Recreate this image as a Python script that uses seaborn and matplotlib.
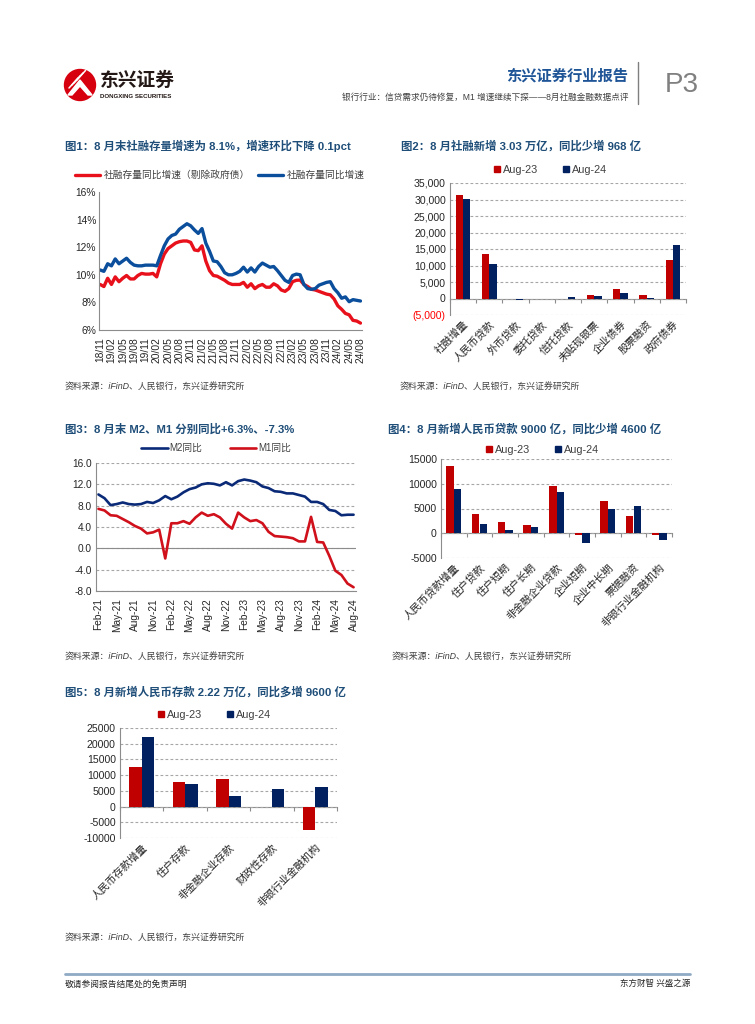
import numpy as np
import pandas as pd
import matplotlib
matplotlib.use('Agg')
import matplotlib.pyplot as plt
import seaborn as sns
from matplotlib.lines import Line2D
from matplotlib.patches import Circle, Polygon
import matplotlib.ticker as mticker

# ---------------- DATA ----------------
# Fig 1: TSF stock growth (%), monthly 2018/11 - 2024/08
tsf_months = [d.strftime('%y/%m') for d in pd.date_range('2018-11-01', '2024-08-01', freq='MS')]
tsf_ex_gov = [9.3, 9.15, 9.75, 9.3, 9.85, 9.5, 9.75, 9.95, 9.7, 9.7,
              9.95, 10.1, 10.05, 10.05, 10.1, 9.85, 10.8, 11.5, 11.9, 12.1,
              12.3, 12.4, 12.45, 12.45, 12.35, 11.8, 11.75, 12.1, 11.0, 10.3,
              9.95, 9.9, 9.75, 9.6, 9.4, 9.3, 9.3, 9.3, 9.45, 9.1,
              9.35, 9.0, 9.2, 9.3, 9.1, 9.1, 9.35, 9.2, 8.9, 8.8,
              9.0, 9.5, 9.6, 9.62, 9.3, 9.15, 8.95, 8.9, 8.8, 8.7,
              8.6, 8.55, 8.25, 7.75, 7.5, 7.2, 7.1, 6.7, 6.65, 6.5]
tsf_total = [10.35, 10.25, 10.8, 10.65, 11.15, 10.8, 11.0, 11.2, 10.9, 10.7,
             10.65, 10.65, 10.7, 10.7, 10.7, 10.65, 11.4, 12.1, 12.6, 12.85,
             12.95, 13.3, 13.5, 13.7, 13.55, 13.25, 13.0, 13.35, 12.3, 11.7,
             11.0, 10.95, 10.6, 10.15, 10.0, 10.0, 10.1, 10.25, 10.55, 10.2,
             10.5, 10.2, 10.6, 10.85, 10.7, 10.55, 10.6, 10.3, 9.95, 9.6,
             9.45, 9.95, 10.05, 10.0, 9.3, 9.0, 8.95, 9.0, 9.25, 9.35,
             9.45, 9.5, 9.0, 8.7, 8.3, 8.4, 8.05, 8.2, 8.15, 8.1]
fig1_labels = ['社融存量同比增速（剔除政府债）', '社融存量同比增速']

# Fig 2: new TSF by component (100 million yuan)
tsf_cats = ['社融增量', '人民币贷款', '外币贷款', '委托贷款', '信托贷款',
            '未贴现银票', '企业债券', '股票融资', '政府债券']
tsf_aug23 = [31300, 13400, -150, -60, -200, 1200, 2800, 1100, 11800]
tsf_aug24 = [30300, 10500, -500, -30, 500, 700, 1800, 200, 16200]

# Fig 3: M2 / M1 yoy (%), Feb-21 - Aug-24
m_months = [d.strftime('%b-%y') for d in pd.date_range('2021-02-01', '2024-08-01', freq='MS')]
m2_yoy = [10.1, 9.4, 8.1, 8.3, 8.6, 8.3, 8.2, 8.3, 8.7, 8.5, 9.0, 9.8, 9.2, 9.7,
          10.5, 11.1, 11.4, 12.0, 12.2, 12.1, 11.8, 12.4, 11.8, 12.6, 12.9, 12.7,
          12.4, 11.6, 11.3, 10.7, 10.6, 10.3, 10.3, 10.0, 9.7, 8.7, 8.7, 8.3,
          7.2, 7.0, 6.2, 6.3, 6.3]
m1_yoy = [7.4, 7.1, 6.2, 6.1, 5.5, 4.9, 4.2, 3.7, 2.8, 3.0, 3.5, -1.9, 4.7, 4.7,
          5.1, 4.6, 5.8, 6.7, 6.1, 6.4, 5.8, 4.6, 3.7, 6.7, 5.8, 5.1, 5.3, 4.7,
          3.1, 2.3, 2.2, 2.1, 1.9, 1.3, 1.3, 5.9, 1.2, 1.1, -1.4, -4.2, -5.0,
          -6.6, -7.3]
fig3_labels = ['M2同比', 'M1同比']

# Fig 4: new RMB loans (100 million yuan)
loan_cats = ['人民币贷款增量', '住户贷款', '住户短期', '住户长期', '非金融企业贷款',
             '企业短期', '企业中长期', '票据融资', '非银行业金融机构']
loan_aug23 = [13600, 3900, 2300, 1700, 9500, -400, 6500, 3500, -300]
loan_aug24 = [9000, 1900, 700, 1200, 8400, -1900, 4900, 5500, -1400]

# Fig 5: new RMB deposits (100 million yuan)
dep_cats = ['人民币存款增量', '住户存款', '非金融企业存款', '财政性存款', '非银行业金融机构']
dep_aug23 = [12600, 7900, 8800, -100, -7400]
dep_aug24 = [22200, 7100, 3500, 5700, 6300]

periods = ['Aug-23', 'Aug-24']

# ---------------- STYLE ----------------
sns.set_theme(style='white')
plt.rcParams['font.family'] = ['Liberation Sans', 'Noto Sans CJK SC', 'DejaVu Sans']
plt.rcParams['axes.unicode_minus'] = False

RED1, BLUE1 = '#E8111B', '#0A4E9C'
RED, NAVY = '#C00000', '#002060'
TITLE_C = '#1F4E79'
GRID_C = '#A6A6A6'
AX_C = '#8C8C8C'
TXT_C = '#262626'

W, H = 755, 1024
fig = plt.figure(figsize=(W / 100, H / 100), dpi=100)

def fx(x):
    return x / W

def fy(y):
    return 1 - y / H

def axes_px(l, t, r, b):
    return fig.add_axes([fx(l), fy(b), (r - l) / W, (b - t) / H])

# overlay for page decorations (pixel coordinates)
deco = fig.add_axes([0, 0, 1, 1], zorder=-1)
deco.set_xlim(0, W)
deco.set_ylim(H, 0)
deco.axis('off')

# header logo
deco.add_patch(Circle((80, 85), 15.5, color='#D7000F'))
deco.add_patch(Polygon([[68, 95], [80, 80], [92, 95], [88, 95], [80, 86], [72, 95]],
                       closed=True, color='white'))
for k in range(4):
    deco.plot([69 + k * 2.5, 78 + k * 2.5], [88 - k * 2.5, 78 - k * 2.5], color='white', lw=1.1)
deco.text(100, 81, '东兴证券', fontsize=13.5, fontweight='bold', color='#231815', va='center', ha='left')
deco.text(100, 96.5, 'DONGXING SECURITIES', fontsize=4.4, fontweight='bold', color='#231815', va='center', ha='left')
deco.text(628, 76, '东兴证券行业报告', fontsize=11, fontweight='bold', color='#1F5597', va='center', ha='right')
deco.text(628, 97, '银行行业：信贷需求仍待修复，M1 增速继续下探——8月社融金融数据点评',
          fontsize=6.2, color='#404040', va='center', ha='right')
deco.plot([638, 638], [62, 104], color='#7F7F7F', lw=1)
deco.text(665, 85, 'P3', fontsize=20, color='#808080', va='center', ha='left',
          family=['Liberation Sans Narrow', 'Liberation Sans'])

# footer
deco.plot([65, 690], [974, 974], color='#8FAAC4', lw=2)
deco.text(65, 984, '敬请参阅报告结尾处的免责声明', fontsize=6.3, color='#262626', va='center', ha='left')
deco.text(690, 984, '东方财智 兴盛之源', fontsize=6.1, color='#262626', va='center', ha='right')

# titles
titles = [
    (65, 146, '图1：8 月末社融存量增速为 8.1%，增速环比下降 0.1pct'),
    (401, 146, '图2：8 月社融新增 3.03 万亿，同比少增 968 亿'),
    (65, 429, '图3：8 月末 M2、M1 分别同比+6.3%、-7.3%'),
    (388, 429, '图4：8 月新增人民币贷款 9000 亿，同比少增 4600 亿'),
    (65, 692, '图5：8 月新增人民币存款 2.22 万亿，同比多增 9600 亿'),
]
for x, y, t in titles:
    deco.text(x, y, t, fontsize=8.2, fontweight='bold', color=TITLE_C, va='center', ha='left')

src = '资料来源：iFinD、人民银行，东兴证券研究所'
for x, y in [(65, 387), (400, 387), (65, 657), (392, 657), (65, 938)]:
    deco.text(x, y, src, fontsize=6.4, style='italic', color='#404040', va='center', ha='left')


def style_axes(ax):
    for s in ['top', 'right']:
        ax.spines[s].set_visible(False)
    for s in ['left', 'bottom']:
        ax.spines[s].set_color(AX_C)
        ax.spines[s].set_linewidth(0.8)
    ax.set_xlabel('')
    ax.set_ylabel('')
    ax.tick_params(colors=AX_C, labelcolor=TXT_C, width=0.8)


# ---------------- FIG 1 ----------------
ax1 = axes_px(99, 192, 362, 330)
n1 = len(tsf_months)
df1 = pd.DataFrame({
    'i': list(range(n1)) * 2,
    'v': tsf_ex_gov + tsf_total,
    's': [fig1_labels[0]] * n1 + [fig1_labels[1]] * n1,
})
sns.lineplot(data=df1, x='i', y='v', hue='s', palette=[RED1, BLUE1], linewidth=2.4,
             ax=ax1, legend=False)
style_axes(ax1)
ax1.set_xlim(-0.3, n1 - 0.6)
ax1.set_ylim(6, 16)
yt = [6, 8, 10, 12, 14, 16]
ax1.set_yticks(yt)
ax1.set_yticklabels([f'{v}%' for v in yt])
xt = list(range(0, n1, 3))
ax1.set_xticks(xt)
ax1.set_xticklabels([tsf_months[i] for i in xt], rotation=90)
ax1.tick_params(axis='x', labelsize=7.4, length=3, direction='out', pad=2)
ax1.tick_params(axis='y', labelsize=7.4, length=3, direction='in', pad=2)
h1 = [Line2D([], [], color=RED1, lw=2.4), Line2D([], [], color=BLUE1, lw=2.4)]
ax1.legend(h1, fig1_labels, loc='center', bbox_to_anchor=(fx(220), fy(175)),
           bbox_transform=fig.transFigure, ncol=2, frameon=False, fontsize=7,
           handlelength=2.6, columnspacing=0.8, handletextpad=0.4, labelcolor='#404040')

# ---------------- FIG 3 ----------------
ax3 = axes_px(96, 463, 356, 591)
n3 = len(m_months)
df3 = pd.DataFrame({
    'i': list(range(n3)) * 2,
    'v': m2_yoy + m1_yoy,
    's': [fig3_labels[0]] * n3 + [fig3_labels[1]] * n3,
})
sns.lineplot(data=df3, x='i', y='v', hue='s', palette=['#0A2A78', '#D0101B'], linewidth=1.9,
             ax=ax3, legend=False)
style_axes(ax3)
ax3.set_xlim(-0.4, n3 - 0.6)
ax3.set_ylim(-8, 16)
yt3 = list(range(-8, 17, 4))
ax3.set_yticks(yt3)
ax3.set_yticklabels([f'{v:.1f}' for v in yt3])
ax3.yaxis.grid(True, color=GRID_C, linestyle=(0, (2.5, 2)), linewidth=0.8)
ax3.axhline(0, color=AX_C, lw=0.8, zorder=1)
xt3 = list(range(0, n3, 3))
ax3.set_xticks(xt3)
ax3.set_xticklabels([m_months[i] for i in xt3], rotation=90)
ax3.tick_params(axis='x', labelsize=7.3, length=3, direction='out', pad=2)
ax3.tick_params(axis='y', labelsize=7.3, length=0, pad=3)
h3 = [Line2D([], [], color='#0A2A78', lw=1.9), Line2D([], [], color='#D0101B', lw=1.9)]
ax3.legend(h3, fig3_labels, loc='center', bbox_to_anchor=(fx(216), fy(448)),
           bbox_transform=fig.transFigure, ncol=2, frameon=False, fontsize=7,
           handlelength=2.7, columnspacing=2.8, handletextpad=0.2, labelcolor='#404040')


# ---------------- BAR CHARTS ----------------
def bar_chart(box, cats, v23, v24, ylim, yticks, fmt, width, legend_xy, neg_red=False):
    ax = axes_px(*box)
    n = len(cats)
    df = pd.DataFrame({'cat': cats * 2, 'val': v23 + v24,
                       'period': [periods[0]] * n + [periods[1]] * n})
    sns.barplot(data=df, x='cat', y='val', hue='period', palette=[RED, NAVY],
                width=width, gap=0, saturation=1, errorbar=None, linewidth=0,
                ax=ax, legend=False, zorder=3)
    style_axes(ax)
    ax.spines['bottom'].set_visible(False)
    ax.set_xlim(-0.5, n - 0.5)
    ax.set_ylim(*ylim)
    ax.set_yticks(yticks)
    ax.set_yticklabels([fmt(v) for v in yticks])
    if neg_red:
        for lab, v in zip(ax.get_yticklabels(), yticks):
            if v < 0:
                lab.set_color('#FF0000')
    ax.yaxis.grid(True, color=GRID_C, linestyle=(0, (2.5, 2)), linewidth=0.8, zorder=0)
    ax.set_axisbelow(True)
    ax.tick_params(axis='y', labelsize=7.6, length=0, pad=3)
    ax.set_xticks(range(n))
    ax.set_xticklabels(cats, rotation=45, ha='right', rotation_mode='anchor')
    ax.tick_params(axis='x', labelsize=7.6, length=0, pad=3)
    # category axis along zero
    zfrac = (0 - ylim[0]) / (ylim[1] - ylim[0])
    sec = ax.secondary_xaxis(zfrac)
    sec.set_xticks(np.arange(n + 1) - 0.5)
    sec.set_xticklabels([])
    sec.spines['bottom'].set_color(AX_C)
    sec.spines['bottom'].set_linewidth(0.8)
    sec.tick_params(axis='x', length=3, color=AX_C, width=0.8, direction='out')
    hs = [Line2D([], [], color=RED, marker='s', linestyle='none', markersize=4.5),
          Line2D([], [], color=NAVY, marker='s', linestyle='none', markersize=4.5)]
    ax.legend(hs, periods, loc='center', bbox_to_anchor=(fx(legend_xy[0]), fy(legend_xy[1])),
              bbox_transform=fig.transFigure, ncol=2, frameon=False, fontsize=7.8,
              handlelength=0.8, columnspacing=2.2, handletextpad=0.1, labelcolor='#404040')
    return ax


def comma_fmt(v):
    return f'({abs(v):,.0f})' if v < 0 else f'{v:,.0f}'


def plain_fmt(v):
    return f'{v:.0f}'


bar_chart((450, 183, 686, 315), tsf_cats, tsf_aug23, tsf_aug24, (-5000, 35000),
          list(range(-5000, 35001, 5000)), comma_fmt, 0.56, (550, 170), neg_red=True)
bar_chart((441, 459, 672, 558), loan_cats, loan_aug23, loan_aug24, (-5000, 15000),
          list(range(-5000, 15001, 5000)), plain_fmt, 0.58, (542, 450))
bar_chart((120, 728, 337, 838), dep_cats, dep_aug23, dep_aug24, (-10000, 25000),
          list(range(-10000, 25001, 5000)), plain_fmt, 0.58, (214, 715))

fig.savefig('out.png', dpi=100)
